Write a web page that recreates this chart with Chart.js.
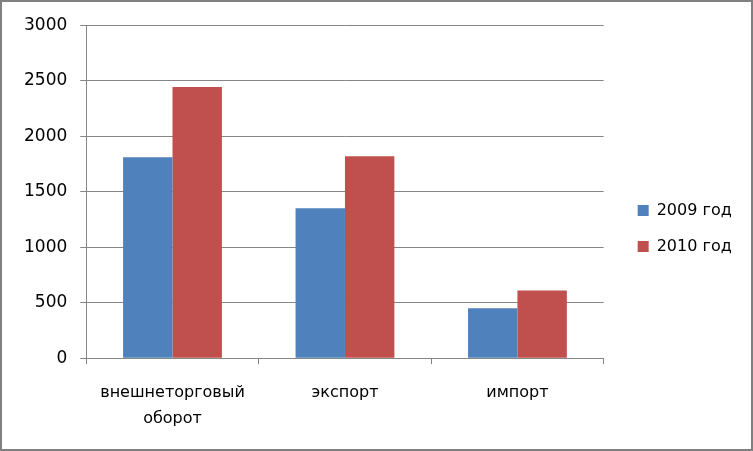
<!DOCTYPE html>
<html>
<head>
<meta charset="utf-8">
<script src="https://cdn.jsdelivr.net/npm/chart.js@4/dist/chart.umd.min.js"></script>
<style>
    body { margin: 0; background: #fff; }
    #frame {
        width: 753px; height: 451px;
        box-sizing: border-box;
        border: 2px solid #808080;
        position: relative;
    }
    #tradeChart { display: block; }
</style>
</head>
<body>
<div id="frame"><canvas id="tradeChart"></canvas></div>
<script>
// values
let categories = [["внешнеторговый", "оборот"], "экспорт", "импорт"];
let values2009 = [1811, 1351, 449];
let values2010 = [2443, 1820, 611];
let seriesNames = ["2009 год", "2010 год"];

let gridColor = "#868686";

// legend sits a bit above the middle in the original
const liftLegend = {
    id: "liftLegend",
    afterLayout(chart) {
        chart.legend.top -= 7;
        chart.legend.bottom -= 7;
    }
};

let ctx = document.getElementById("tradeChart").getContext("2d");
let chart = new Chart(ctx, {
    type: "bar",
    data: {
        labels: categories,
        datasets: [{
            label: seriesNames[0],
            data: values2009,
            backgroundColor: "#4F81BD",
            categoryPercentage: 0.573,
            barPercentage: 1.0
        }, {
            label: seriesNames[1],
            data: values2010,
            backgroundColor: "#C0504D",
            categoryPercentage: 0.573,
            barPercentage: 1.0
        }]
    },
    plugins: [liftLegend],
    options: {
        responsive: true,
        maintainAspectRatio: false,
        animation: false,
        layout: {
            padding: { top: 22, left: 9, bottom: 2, right: 12 }
        },
        plugins: {
            tooltip: { enabled: false },
            legend: {
                position: "right",
                labels: {
                    boxWidth: 11,
                    boxHeight: 11,
                    padding: 20,
                    color: "#000",
                    font: { family: "DejaVu Sans", size: 16 }
                }
            }
        },
        scales: {
            x: {
                grid: {
                    drawOnChartArea: false,
                    color: gridColor,
                    tickLength: 6
                },
                border: { color: gridColor },
                ticks: {
                    color: "#000",
                    padding: 15,
                    maxRotation: 0,
                    font: { family: "DejaVu Sans", size: 16, lineHeight: 1.65 }
                }
            },
            y: {
                min: 0,
                max: 3000,
                grid: { color: gridColor, tickLength: 6 },
                border: { color: gridColor },
                ticks: {
                    stepSize: 500,
                    color: "#000",
                    padding: 13,
                    font: { family: "DejaVu Sans", size: 17 },
                    callback: function (v) { return String(v); }
                }
            },
            // empty spacer between plot and legend
            gap: {
                type: "linear",
                position: "right",
                grid: { display: false, drawTicks: false },
                border: { display: false },
                ticks: { display: false },
                afterFit: function (scale) { scale.width = 14; }
            }
        }
    }
});
</script>
</body>
</html>
